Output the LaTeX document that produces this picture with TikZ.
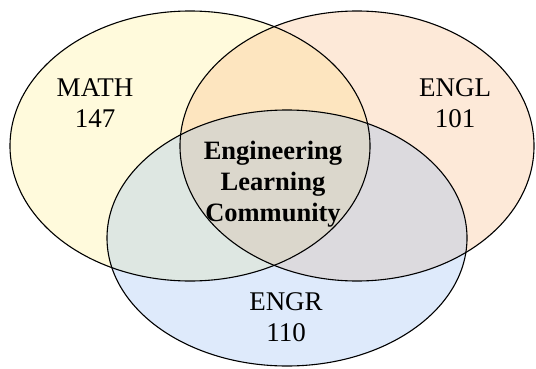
\documentclass[tikz,border=0pt]{standalone}
\usepackage{fontspec}
\setmainfont{Liberation Serif}
\usetikzlibrary{positioning}
\definecolor{mathfill}{RGB}{255,238,130}
\definecolor{englfill}{RGB}{248,175,115}
\definecolor{engrfill}{RGB}{135,180,240}

\begin{document}
\begin{tikzpicture}[x=1bp, y=1bp,
  vtext/.style={align=center,inner sep=0pt,font=\fontsize{27bp}{31bp}\selectfont}]
\useasboundingbox (0,0) rectangle (536,368);

% the three sets
\foreach \pos/\col/\rx/\ry in {{(190,222)/mathfill/180/135}, {(357,222)/englfill/177/135}, {(287,130)/engrfill/180/128}}
\fill[\col, fill opacity=0.28] \pos ellipse ({\rx} and {\ry});
\foreach \pos/\rx/\ry in {{(190,222)/180/135}, {(357,222)/177/135}, {(287,130)/180/128}}
\draw[line width=1.1bp] \pos ellipse ({\rx} and {\ry});

% course labels
\foreach \pos/\name/\disp in {{(95,265)/math/MATH\\147}, {(455,265)/engl/ENGL\\101}, {(286,51)/engr/ENGR\\110}}
\node[vtext] (\name) at \pos {\disp};

\node[vtext, font=\fontsize{26.5bp}{31bp}\selectfont\bfseries] (elc) at (273,184) {Engineering\\Learning\\Community};

\end{tikzpicture}
\end{document}
